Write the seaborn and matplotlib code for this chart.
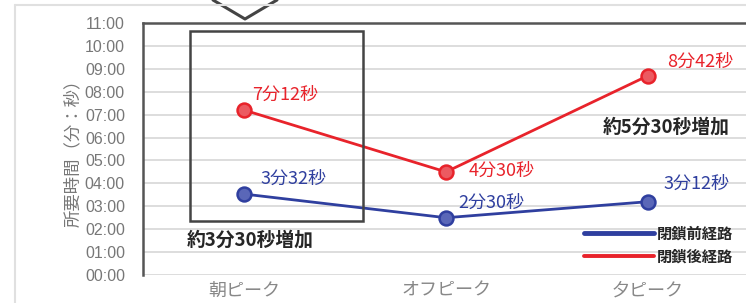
import matplotlib.pyplot as plt
import pandas as pd
import seaborn as sns
from matplotlib.lines import Line2D
from matplotlib.patches import Rectangle

# データ(分)
periods = ["朝ピーク", "オフピーク", "夕ピーク"]
before_min = [3 + 32 / 60, 2 + 30 / 60, 3 + 12 / 60]
after_min = [7 + 12 / 60, 4 + 30 / 60, 8 + 42 / 60]
before_labels = ["3分32秒", "2分30秒", "3分12秒"]
after_labels = ["7分12秒", "4分30秒", "8分42秒"]
series_names = ["閉鎖前経路", "閉鎖後経路"]
yticks = list(range(0, 12))
ytick_labels = [f"{m:02d}:00" for m in yticks]

blue = "#2f3f9f"
red = "#e8232b"
blue_fill = "#5a67b8"
red_fill = "#ec5a61"

df = pd.DataFrame({
    "時間帯": periods * 2,
    "所要時間": before_min + after_min,
    "経路": [series_names[0]] * 3 + [series_names[1]] * 3,
})

sns.set_style("white")
plt.rcParams["font.family"] = ["Noto Sans CJK JP", "DejaVu Sans"]

W, H = 746, 303
fig = plt.figure(figsize=(W / 100, H / 100), dpi=100)
ax = fig.add_axes([143 / W, 28 / H, 606 / W, 252 / H])

sns.lineplot(data=df, x="時間帯", y="所要時間", hue="経路", palette=[blue, red],
             sort=False, marker="o", markersize=10, linewidth=2,
             markeredgewidth=1.8, ax=ax, legend=False)
for ln, c, f in zip(ax.lines, [blue, red], [blue_fill, red_fill]):
    ln.set_markerfacecolor(f)
    ln.set_markeredgecolor(c)
    ln.set_alpha(1)

ax.set_xlim(-0.5, 2.5)
ax.set_ylim(0, 11)
ax.set_yticks(yticks)
ax.set_yticklabels(ytick_labels, color="#777777", fontsize=11.5, family=["Liberation Sans", "DejaVu Sans"])
ax.tick_params(axis="y", length=0, pad=13)
ax.tick_params(axis="x", length=0, pad=5, labelsize=13, labelcolor="#888888")
ax.yaxis.grid(True, color="#dadada", linewidth=1.3)
ax.set_axisbelow(True)
ax.set_xlabel("")
ax.set_ylabel("所要時間（分：秒）", fontsize=12.5, color="#777777", labelpad=2)

for side in ["right", "bottom"]:
    ax.spines[side].set_visible(False)
ax.spines["left"].set_color("#555555")
ax.spines["left"].set_linewidth(1.8)
ax.spines["top"].set_color("#555555")
ax.spines["top"].set_linewidth(1.8)

# 値ラベル
b_off = [(12, 11), (9, 11), (11, 13)]
a_off = [(6, 11), (16, 1), (14, 10)]
for i in range(3):
    ax.annotate(before_labels[i], (i, before_min[i]), xytext=b_off[i], textcoords="offset points",
                color=blue, fontsize=13, va="center", ha="left")
    ax.annotate(after_labels[i], (i, after_min[i]), xytext=a_off[i], textcoords="offset points",
                color=red, fontsize=13, va="center", ha="left")

# 枠・矢印
ax.add_patch(Rectangle((-0.267, 2.36), 0.856, 8.29, fill=False, edgecolor="#444444",
                       linewidth=1.8, clip_on=False, zorder=5))
fig.add_artist(Line2D([213 / W, 245 / W, 277 / W], [1, 1 - 19 / H, 1], color="#444444", linewidth=2.2))
fig.add_artist(Line2D([15 / W, 15 / W], [0, 1 - 5 / H], color="#e0e0e0", linewidth=1.5))
fig.add_artist(Line2D([15 / W, 1], [1 - 5 / H, 1 - 5 / H], color="#e0e0e0", linewidth=1.5))

fig.text(603 / W, 1 - 127 / H, "約5分30秒増加", fontsize=13.5, fontweight="bold", va="center", ha="left")
fig.text(187 / W, 1 - 240 / H, "約3分30秒増加", fontsize=13.5, fontweight="bold", va="center", ha="left")

# 凡例
handles = [Line2D([0], [0], color=blue, linewidth=3.5), Line2D([0], [0], color=red, linewidth=2.8)]
leg = fig.legend(handles, series_names, loc="upper left", bbox_to_anchor=(576 / W, 1 - 218 / H),
                 frameon=False, handlelength=4.6, handletextpad=0.2, labelspacing=0.45,
                 borderpad=0, prop={"size": 11, "weight": "bold"})

fig.savefig("out.png", dpi=100)
